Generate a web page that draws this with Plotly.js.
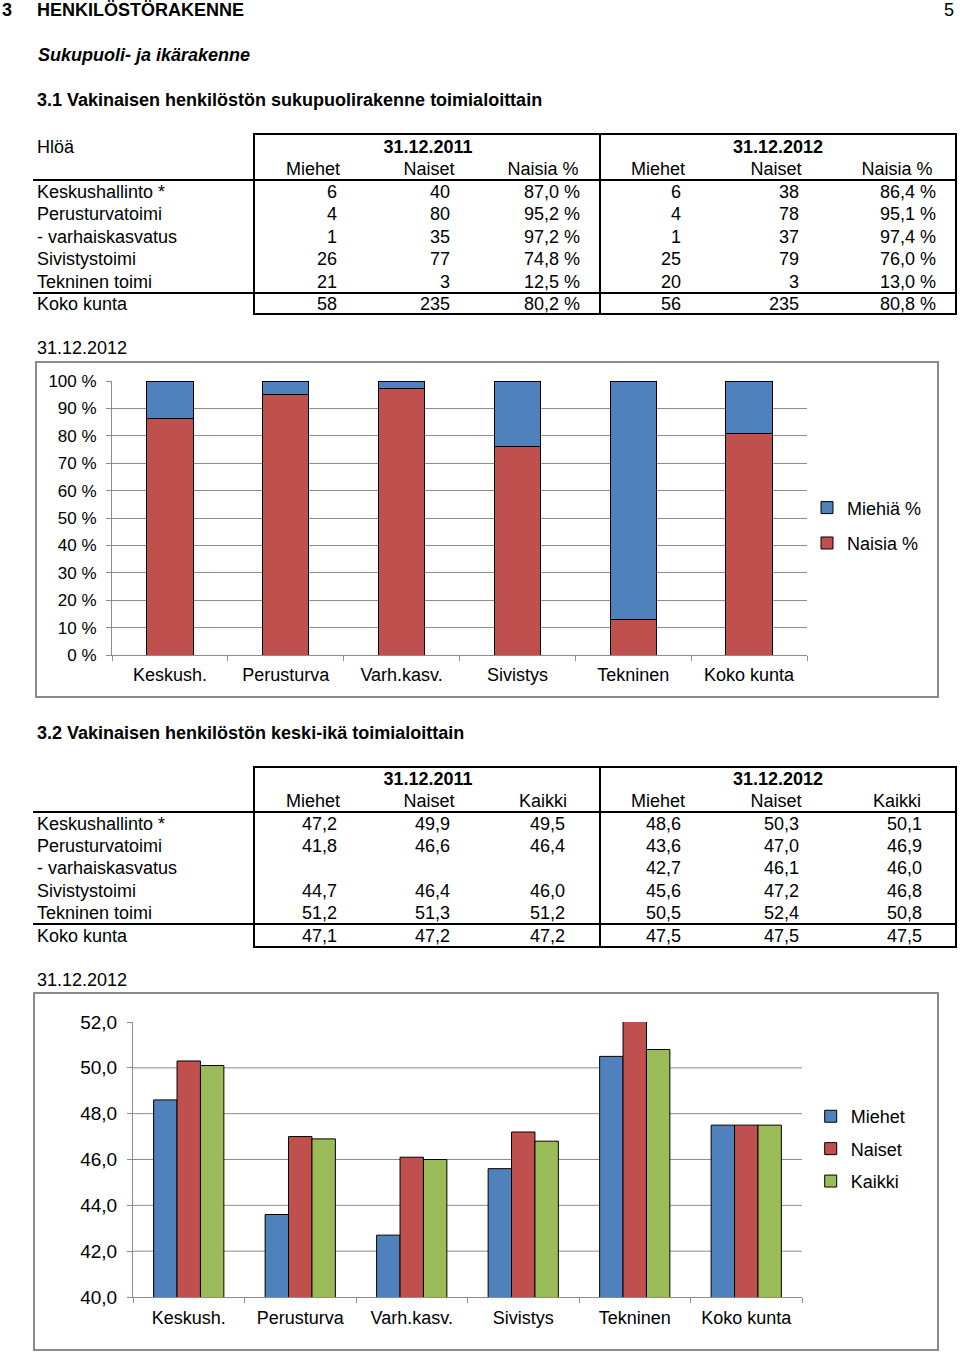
<!DOCTYPE html>
<html><head><meta charset="utf-8">
<script src="https://cdn.plot.ly/plotly-3.0.1.min.js"></script>
<style>
body{margin:0;background:#fff;}
#page{position:relative;width:960px;height:1353px;overflow:hidden;background:#fff;font-family:"Liberation Sans",Arial,Helvetica,sans-serif;color:#000;}
.t{position:absolute;white-space:nowrap;font-size:18px;line-height:22px;height:22px;}
.ln{position:absolute;background:#000;}
.frame{position:absolute;border:2px solid #8a8a8a;box-sizing:border-box;}
.chart{position:absolute;}
</style></head><body><div id="page"></div>
<script>
// ---------- DATA ----------
var rowLabels = ['Keskushallinto *','Perusturvatoimi','- varhaiskasvatus','Sivistystoimi','Tekninen toimi','Koko kunta'];
var dateHeaders = ['31.12.2011','31.12.2012'];
var t1ColHeaders = ['Miehet','Naiset','Naisia %'];
var t2ColHeaders = ['Miehet','Naiset','Kaikki'];

// Table 3.1 (persons)
var men2011   = [6, 4, 1, 26, 21, 58];
var women2011 = [40, 80, 35, 77, 3, 235];
var pctW2011  = [87.0, 95.2, 97.2, 74.8, 12.5, 80.2];
var men2012   = [6, 4, 1, 25, 20, 56];
var women2012 = [38, 78, 37, 79, 3, 235];
var pctW2012  = [86.4, 95.1, 97.4, 76.0, 13.0, 80.8];

// Table 3.2 (average age)
var ageMen2011   = [47.2, 41.8, null, 44.7, 51.2, 47.1];
var ageWomen2011 = [49.9, 46.6, null, 46.4, 51.3, 47.2];
var ageAll2011   = [49.5, 46.4, null, 46.0, 51.2, 47.2];
var ageMen2012   = [48.6, 43.6, 42.7, 45.6, 50.5, 47.5];
var ageWomen2012 = [50.3, 47.0, 46.1, 47.2, 52.4, 47.5];
var ageAll2012   = [50.1, 46.9, 46.0, 46.8, 50.8, 47.5];

// Charts
var chartCats   = ['Keskush.','Perusturva','Varh.kasv.','Sivistys','Tekninen','Koko kunta'];
var miehiaPct   = [13.6, 4.9, 2.6, 24.0, 87.0, 19.2];
var naisiaPct   = [86.4, 95.1, 97.4, 76.0, 13.0, 80.8];
var chart2Names = ['Miehet','Naiset','Kaikki'];
var ageGridVals = [42, 44, 46, 48, 50];

// ---------- PAGE ----------
var page = document.getElementById('page');
function txt(s, x, yc, align, style){
  var d = document.createElement('div');
  d.className = 't';
  d.textContent = s;
  d.style.top = (yc - 11) + 'px';
  if(align === 'right'){ d.style.right = (960 - x) + 'px'; }
  else if(align === 'center'){ d.style.left = (x - 150) + 'px'; d.style.width = '300px'; d.style.textAlign = 'center'; }
  else { d.style.left = x + 'px'; }
  if(style){ for(var k in style) d.style[k] = style[k]; }
  page.appendChild(d);
}
function hline(x1, x2, y){
  var d = document.createElement('div'); d.className='ln';
  d.style.left = x1+'px'; d.style.width = (x2-x1)+'px'; d.style.top = (y-1)+'px'; d.style.height='2px';
  page.appendChild(d);
}
function vline(x, y1, y2){
  var d = document.createElement('div'); d.className='ln';
  d.style.left = (x-1)+'px'; d.style.width='2px'; d.style.top = (y1-1)+'px'; d.style.height=(y2-y1+2)+'px';
  page.appendChild(d);
}
function frame(l, t, r, b){
  var d = document.createElement('div'); d.className='frame';
  d.style.left=l+'px'; d.style.top=t+'px'; d.style.width=(r-l)+'px'; d.style.height=(b-t)+'px';
  page.appendChild(d);
}
function f1(v){ return v == null ? '' : v.toFixed(1).replace('.', ','); }
function fp(v){ return v.toFixed(1).replace('.', ',') + ' %'; }

var B = {fontWeight:'bold'};
// headings
txt('3', 2, 10, 'left', B);
txt('HENKILÖSTÖRAKENNE', 37, 10, 'left', B);
txt('5', 954, 10, 'right');
txt('Sukupuoli- ja ikärakenne', 38, 55, 'left', {fontWeight:'bold', fontStyle:'italic'});
txt('3.1 Vakinaisen henkilöstön sukupuolirakenne toimialoittain', 37, 100, 'left', B);
txt('31.12.2012', 37, 348, 'left');
txt('3.2 Vakinaisen henkilöstön keski-ikä toimialoittain', 37, 733, 'left', B);
txt('31.12.2012', 37, 980, 'left');

// table builder
function table(cfg){
  hline(254, 957, cfg.top);
  hline(33, 957, cfg.hdrLine);
  hline(33, 957, cfg.totLine);
  hline(254, 957, cfg.bottom);
  vline(254, cfg.top, cfg.bottom);
  vline(600, cfg.top, cfg.bottom);
  vline(956, cfg.top, cfg.bottom);
  if(cfg.corner) txt(cfg.corner, 37, cfg.h1, 'left');
  txt(dateHeaders[0], 428, cfg.h1, 'center', B);
  txt(dateHeaders[1], 778, cfg.h1, 'center', B);
  var centers = [313, 429, 543, 658, 776, 897];
  var heads = cfg.heads.concat(cfg.heads);
  for(var c=0;c<6;c++) txt(heads[c], centers[c], cfg.h2, 'center');
  for(var r=0;r<rowLabels.length;r++){
    txt(rowLabels[r], 37, cfg.rows[r], 'left');
    for(var c2=0;c2<6;c2++){
      txt(cfg.cols[c2][r], cfg.rights[c2], cfg.rows[r], 'right');
    }
  }
}
table({
  top:134, hdrLine:180, totLine:293, bottom:314, h1:147, h2:169,
  rows:[192,214,237,259,282,304], corner:'Hlöä', heads:t1ColHeaders,
  rights:[337,450,580,681,799,936],
  cols:[men2011.map(String), women2011.map(String), pctW2011.map(fp),
        men2012.map(String), women2012.map(String), pctW2012.map(fp)]
});
table({
  top:767, hdrLine:812, totLine:924, bottom:947, h1:779, h2:801,
  rows:[824,846,868,891,913,936], corner:null, heads:t2ColHeaders,
  rights:[337,450,565,681,799,922],
  cols:[ageMen2011.map(f1), ageWomen2011.map(f1), ageAll2011.map(f1),
        ageMen2012.map(f1), ageWomen2012.map(f1), ageAll2012.map(f1)]
});

// chart frames and divs
frame(35, 361, 939, 698);
frame(33, 992, 939, 1351);
function chartDiv(id, l, t, w, h){
  var d = document.createElement('div'); d.id=id; d.className='chart';
  d.style.left=l+'px'; d.style.top=t+'px'; d.style.width=w+'px'; d.style.height=h+'px';
  page.appendChild(d); return d;
}
var c1 = chartDiv('c1', 35, 361, 904, 337);
var c2 = chartDiv('c2', 33, 992, 906, 359);

var FONT = {family:'"Liberation Sans", Arial, sans-serif', size:18, color:'#000'};
var BLUE='#4F81BD', RED='#C0504D', GREEN='#9BBB59', GRID='#8c8c8c';
var cfg = {staticPlot:true, displayModeBar:false};

// Chart 1: stacked 100% bars
Plotly.newPlot(c1, [
  {type:'bar', name:'Naisia %', x:chartCats, y:naisiaPct, legendgroup:'n', legendrank:2,
   marker:{color:RED, line:{color:'#000', width:1}}},
  {type:'bar', name:'Miehiä %', x:chartCats, y:miehiaPct, legendgroup:'m', legendrank:1,
   marker:{color:BLUE, line:{color:'#000', width:1}}}
], {
  width:904, height:337, barmode:'stack', bargap:0.6,
  margin:{l:77, r:132, t:20, b:43},
  paper_bgcolor:'rgba(0,0,0,0)', plot_bgcolor:'rgba(0,0,0,0)',
  font:FONT,
  xaxis:{type:'category', showline:true, linecolor:GRID, linewidth:1, ticks:'outside', tickson:'boundaries',
         ticklen:5, tickcolor:GRID, showgrid:false, ticklabelstandoff:3, tickfont:{size:18}},
  yaxis:{range:[0,100], tick0:0, dtick:10, ticksuffix:' %', showline:true, linecolor:GRID, linewidth:1,
         ticks:'outside', ticklen:5, tickcolor:GRID, showgrid:true, gridcolor:GRID, gridwidth:1,
         zeroline:false, ticklabelstandoff:6, tickfont:{size:17}},
  legend:{x:1.0, xanchor:'left', y:0.473, yanchor:'middle', traceorder:'grouped', tracegroupgap:9,
          bgcolor:'rgba(0,0,0,0)', font:{size:18}},
  showlegend:true
}, cfg);

// Chart 2: grouped bars of average age
Plotly.newPlot(c2, [
  {type:'bar', name:chart2Names[0], x:chartCats, y:ageMen2012, legendgroup:'a',
   marker:{color:BLUE, line:{color:'#000', width:1}}},
  {type:'bar', name:chart2Names[1], x:chartCats, y:ageWomen2012, legendgroup:'b',
   marker:{color:RED, line:{color:'#000', width:1}}},
  {type:'bar', name:chart2Names[2], x:chartCats, y:ageAll2012, legendgroup:'c',
   marker:{color:GREEN, line:{color:'#000', width:1}}}
], {
  width:906, height:359, barmode:'group', bargap:0.37, bargroupgap:0,
  margin:{l:100, r:137, t:30, b:54},
  separators:', ',
  paper_bgcolor:'rgba(0,0,0,0)', plot_bgcolor:'rgba(0,0,0,0)',
  font:FONT,
  xaxis:{type:'category', showline:true, linecolor:GRID, linewidth:1, ticks:'outside', tickson:'boundaries',
         ticklen:5, tickcolor:GRID, showgrid:false, ticklabelstandoff:4, tickfont:{size:18}},
  yaxis:{range:[40,52], tick0:40, dtick:2, tickformat:'.1f', showline:true, linecolor:GRID, linewidth:1,
         ticks:'outside', ticklen:5, tickcolor:GRID, showgrid:false, zeroline:false,
         ticklabelstandoff:6, tickfont:{size:19}},
  shapes: ageGridVals.map(function(v){
    return {type:'line', xref:'paper', x0:0, x1:1, yref:'y', y0:v, y1:v, layer:'below',
            line:{color:GRID, width:1}};
  }),
  legend:{x:1.013, xanchor:'left', y:0.538, yanchor:'middle', traceorder:'grouped', tracegroupgap:6,
          bgcolor:'rgba(0,0,0,0)', font:{size:18}},
  showlegend:true
}, cfg);
</script>
</body></html>
